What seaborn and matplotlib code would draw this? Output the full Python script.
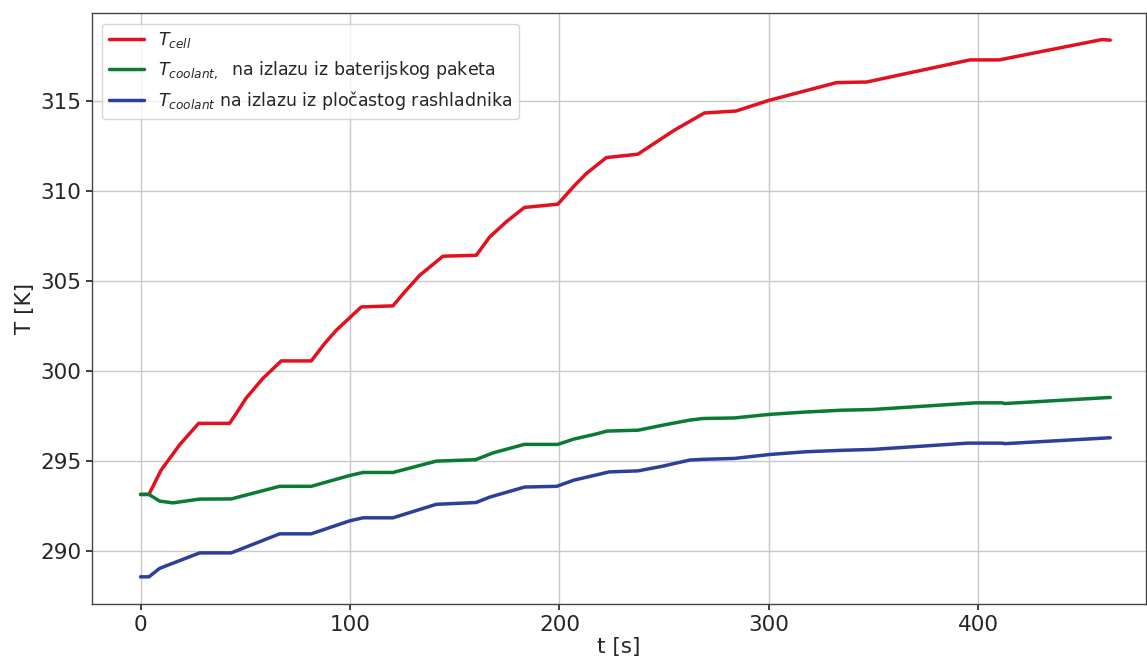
import numpy as np
import pandas as pd
import matplotlib
matplotlib.use("Agg")
import matplotlib.pyplot as plt
import seaborn as sns

# values
t_cell = [0, 4, 9.8, 18.6, 27.7, 42.5, 45.7, 50.4, 58.4, 67.2, 81.5, 87.9, 93.5,
          105.4, 120.5, 126.1, 133.3, 144.4, 160.3, 166.7, 174.6, 183.3, 199.2,
          207.3, 212.8, 222.4, 237.5, 246.3, 255, 269.2, 284.4, 300, 332.4, 346.7,
          396, 410, 459, 463]
T_cell = [293.15, 293.15, 294.5, 295.9, 297.1, 297.1, 297.65, 298.5, 299.6, 300.57,
          300.57, 301.54, 302.28, 303.57, 303.63, 304.4, 305.33, 306.39, 306.44,
          307.46, 308.3, 309.1, 309.28, 310.33, 310.98, 311.87, 312.06, 312.74,
          313.4, 314.35, 314.46, 315.05, 316.04, 316.07, 317.3, 317.3, 318.43, 318.4]

t_pack = [0, 4, 9.1, 15.4, 28.2, 43.3, 66.4, 81.5, 99.8, 106.2, 120.5, 141.2, 160,
          168.3, 183.2, 199.2, 206.7, 217.2, 222.7, 237.6, 249.4, 262.2, 268.6,
          283.5, 300.5, 317.6, 334.6, 349.5, 398.6, 411.5, 412.4, 463]
T_pack = [293.15, 293.15, 292.78, 292.68, 292.89, 292.9, 293.6, 293.6, 294.2, 294.37,
          294.37, 295.0, 295.08, 295.46, 295.93, 295.93, 296.22, 296.5, 296.67, 296.72,
          297.0, 297.28, 297.37, 297.4, 297.6, 297.73, 297.83, 297.87, 298.24, 298.24,
          298.2, 298.54]

t_plate = [0, 4, 9.1, 28.2, 43.3, 66.4, 81.5, 99.8, 106.2, 120.5, 141.2, 160.2,
           166.7, 183.4, 198.7, 206.8, 223.7, 237.6, 249.3, 262.2, 268.6, 283.5,
           300.5, 317.6, 334.6, 349.5, 394.8, 411.5, 412.4, 463]
T_plate = [288.57, 288.57, 289.04, 289.9, 289.9, 290.96, 290.96, 291.68, 291.85,
           291.85, 292.6, 292.7, 293.0, 293.56, 293.6, 293.94, 294.4, 294.46, 294.72,
           295.06, 295.1, 295.15, 295.37, 295.52, 295.6, 295.65, 296.0, 296.0, 295.97,
           296.3]

labels = [r"$T_{cell}$",
          r"$T_{coolant,}$  na izlazu iz baterijskog paketa",
          r"$T_{coolant}$ na izlazu iz pločastog rashladnika"]
colors = ["#e3101e", "#0a7a35", "#2e3f9a"]

sns.set_theme(style="whitegrid", rc={
    "axes.edgecolor": "#444444",
    "axes.linewidth": 1.0,
    "grid.color": "#c8c8c8",
    "xtick.bottom": True,
    "ytick.left": True,
    "xtick.color": "#262626",
    "ytick.color": "#262626",
})

fig, ax = plt.subplots(figsize=(11.47, 6.56), dpi=100)
fig.subplots_adjust(left=0.080, right=0.999, bottom=0.079, top=0.980)

for tt, TT, lab, c in zip([t_cell, t_pack, t_plate], [T_cell, T_pack, T_plate], labels, colors):
    sns.lineplot(x=tt, y=TT, ax=ax, color=c, linewidth=2.5, label=lab)

ax.set_xlim(-23.3, 480)
ax.set_ylim(287.05, 319.9)
ax.set_xticks([0, 100, 200, 300, 400])
ax.set_yticks([290, 295, 300, 305, 310, 315])
ax.tick_params(labelsize=15.5, length=4)
ax.set_xlabel("t [s]", fontsize=15.5, labelpad=2)
ax.set_ylabel("T [K]", fontsize=15.5)
ax.legend(loc="upper left", fontsize=12.5, frameon=True, framealpha=0.8,
          handlelength=2.0, borderaxespad=0.6)

fig.savefig("out.png", dpi=100)
